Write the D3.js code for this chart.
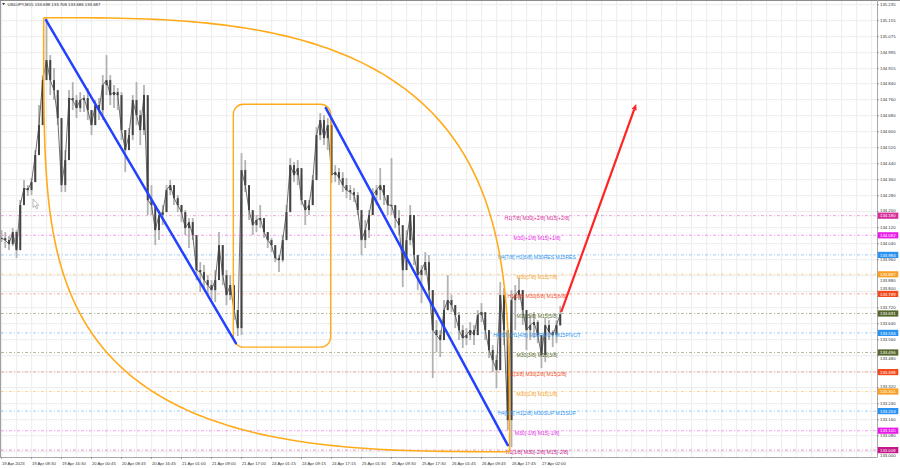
<!DOCTYPE html>
<html><head><meta charset="utf-8">
<script src="https://cdn.jsdelivr.net/npm/d3@7"></script>
<style>
body{margin:0;background:#fff;}
svg{display:block;}
text{font-family:"Liberation Sans",Arial,sans-serif;}
</style>
</head><body>
<svg id="c" width="900" height="468"></svg>
<script>
const symbolTitle = "USDJPY,M15";
const lastOHLC = ["133.698","133.708","133.686","133.687"];
const barsPerSample = 4;
const highs = [134.108,134.098,134.078,134.118,134.108,134.258,134.358,134.333,134.368,134.508,
134.733,134.883,135.168,134.983,134.918,134.783,134.508,134.508,134.808,134.848,
134.783,134.798,134.783,134.818,134.708,134.758,134.768,134.883,134.983,134.883,
134.833,134.818,134.798,134.608,134.618,134.783,134.848,134.708,134.833,134.768,
134.333,134.183,134.208,134.233,134.333,134.358,134.333,134.283,134.233,134.208,
134.168,134.168,134.058,133.948,133.933,133.883,133.858,133.908,134.098,134.033,
133.908,133.883,133.833,133.683,134.493,134.458,134.308,134.198,134.183,134.233,
134.148,134.098,134.068,134.018,133.983,134.083,134.233,134.468,134.448,134.458,
134.383,134.258,134.258,134.383,134.623,134.693,134.683,134.668,134.668,134.433,
134.418,134.398,134.368,134.333,134.318,134.298,134.183,134.158,134.208,134.318,
134.333,134.418,134.333,134.283,134.468,134.233,134.208,134.068,134.108,134.233,
134.183,133.983,133.933,133.998,133.983,133.808,133.658,133.608,133.758,133.883,
133.783,133.733,133.698,133.633,133.618,133.648,133.633,133.708,133.743,133.668,
133.583,133.533,133.483,133.848,133.818,133.608,133.808,133.833,133.868,133.808,
133.683,133.683,133.698,133.658,133.568,133.668,133.658,133.608,133.658,133.728];
const lows = [134.048,134.018,134.008,134.028,133.968,134.058,134.258,134.278,134.283,134.348,
134.558,134.633,134.883,134.783,134.758,134.633,134.298,134.298,134.608,134.708,
134.668,134.698,134.698,134.658,134.583,134.633,134.658,134.658,134.783,134.733,
134.718,134.708,134.558,134.398,134.508,134.558,134.633,134.533,134.583,134.183,
134.183,134.033,134.058,134.133,134.198,134.283,134.233,134.198,134.148,134.083,
134.018,134.058,133.858,133.798,133.808,133.783,133.758,133.748,133.933,133.833,
133.733,133.758,133.658,133.578,133.583,134.298,134.158,134.083,134.098,134.118,
134.068,134.018,133.998,133.948,133.898,133.948,134.068,134.208,134.348,134.333,
134.233,134.133,134.183,134.233,134.383,134.558,134.533,134.508,134.343,134.348,
134.333,134.298,134.268,134.258,134.248,134.183,133.983,134.018,134.068,134.183,
134.233,134.258,134.233,134.183,134.183,134.118,134.083,133.823,133.958,134.033,
133.933,133.808,133.743,133.883,133.758,133.368,133.498,133.473,133.583,133.708,
133.698,133.618,133.558,133.518,133.533,133.558,133.533,133.583,133.648,133.558,
133.468,133.398,133.318,133.408,133.533,133.108,133.023,133.608,133.758,133.633,
133.508,133.558,133.568,133.543,133.418,133.448,133.558,133.523,133.543,133.628];
const closes = [134.068,134.058,134.038,134.098,134.008,134.233,134.318,134.308,134.348,134.483,
134.633,134.858,134.958,134.858,134.808,134.668,134.333,134.458,134.768,134.758,
134.718,134.758,134.768,134.708,134.633,134.733,134.708,134.833,134.858,134.783,
134.798,134.783,134.608,134.508,134.583,134.758,134.683,134.608,134.783,134.258,
134.233,134.108,134.183,134.198,134.308,134.333,134.268,134.233,134.198,134.118,
134.148,134.083,133.908,133.898,133.858,133.833,133.808,133.858,134.033,133.883,
133.783,133.833,133.708,133.618,134.408,134.333,134.208,134.133,134.158,134.168,
134.098,134.058,134.033,133.968,133.958,134.058,134.198,134.433,134.383,134.418,
134.258,134.208,134.233,134.358,134.583,134.658,134.568,134.633,134.383,134.398,
134.368,134.333,134.308,134.298,134.283,134.208,134.058,134.108,134.183,134.283,
134.308,134.333,134.283,134.233,134.233,134.168,134.133,133.908,134.058,134.183,
133.983,133.883,133.908,133.948,133.808,133.608,133.583,133.558,133.708,133.758,
133.733,133.683,133.608,133.568,133.583,133.608,133.583,133.683,133.698,133.608,
133.508,133.458,133.408,133.783,133.608,133.158,133.758,133.783,133.808,133.708,
133.608,133.633,133.648,133.583,133.483,133.633,133.598,133.583,133.633,133.687];

const timeLabels = ["19 Apr 2023","19 Apr 08:30","19 Apr 16:30","20 Apr 00:45","20 Apr 08:45","20 Apr 16:45","21 Apr 01:00","21 Apr 09:00","21 Apr 17:00","24 Apr 01:15","24 Apr 09:15","24 Apr 17:15","25 Apr 01:30","25 Apr 09:30","25 Apr 17:30","26 Apr 01:45","26 Apr 09:45","26 Apr 17:45","27 Apr 02:00"];
const barsPerLabel = 32;
const priceTicks = [135.235,135.155,135.075,134.995,134.915,134.840,134.760,134.680,134.600,134.520,134.440,134.360,134.280,134.200,134.120,134.040,133.960,133.880,133.800,133.720,133.640,133.560,133.480,133.400,133.320,133.240,133.160,133.080,133.000];

const levelPrices = [134.180,134.082,133.984,133.887,133.789,133.691,133.594,133.496,133.398,133.301,133.203,133.105,133.008];
const levelNames = ["H1[7/8] M30[+2/8] M15[+2/8]","M30[+1/8] M15[+1/8]","H4[7/8] H1[6/8] M30RES M15RES","M30[7/8] M15[7/8]","H1[5/8] M30[6/8] M15[6/8]","M30[5/8] M15[5/8]","H4[6/8] H1[4/8] M30PIVOT M15PIVOT","M30[3/8] M15[3/8]","H1[3/8] M30[2/8] M15[2/8]","M30[1/8] M15[1/8]","H4[5/8] H1[2/8] M30SUP M15SUP","M30[-1/8] M15[-1/8]","H1[1/8] M30[-2/8] M15[-2/8]"];
const levelColors = ["#d62c9c","#e81ee8","#2a92f0","#f7a025","#f24a1c","#55692c","#2a92f0","#55692c","#f24a1c","#f7a025","#2a92f0","#e81ee8","#c4168a"];

const trendLines = [[47.5,135.158,250,133.543],[346,134.718,540,133.033]];
const arrowLine = [597,133.698,677,134.738];
const roundRect = [247.3,134.737,351.1,133.523];
const arcEnds = [45,135.17,542,133.0];

const svg = d3.select("#c");
const W = 900, H = 468, plotR = 877, plotB = 457;
const x = d3.scaleLinear().domain([0,934]).range([1.5, 877.1]);
const y = d3.scaleLinear().domain([132.9735,135.2535]).range([457,1]);

svg.append("rect").attr("width",W).attr("height",H).attr("fill","#fff");

// grid
const g = svg.append("g");
for (let b = 0; x(b) < plotR; b += 16) {
  g.append("line").attr("x1",x(b)+0.2).attr("x2",x(b)+0.2).attr("y1",1).attr("y2",plotB).attr("stroke","#ececec").attr("stroke-width",1);
}
priceTicks.forEach(p=>{
  g.append("line").attr("x1",1).attr("x2",plotR).attr("y1",y(p)).attr("y2",y(p)).attr("stroke","#ececec").attr("stroke-width",1);
});

// levels
levelPrices.forEach((p,i)=>{
  g.append("line").attr("x1",1).attr("x2",plotR).attr("y1",y(p)).attr("y2",y(p))
   .attr("stroke",levelColors[i]).attr("stroke-width",0.8).attr("stroke-dasharray","3,2,1,2").attr("opacity",0.55);
});

// candles
const cg = svg.append("g");
highs.forEach((h,i)=>{
  const cx = x(i*barsPerSample);
  cg.append("line").attr("x1",cx).attr("x2",cx).attr("y1",y(h)).attr("y2",y(lows[i]))
    .attr("stroke","#b2b2b2").attr("stroke-width",1.8);
});
cg.append("path").attr("d", d3.line().x((d,i)=>x(i*barsPerSample)).y(d=>y(d))(closes))
  .attr("fill","none").attr("stroke","#4a4a4a").attr("stroke-width",0.8);
highs.forEach((h,i)=>{
  const cx = x(i*barsPerSample);
  const o = i>0 ? closes[i-1] : closes[0];
  const c = closes[i];
  const y0 = Math.min(y(o),y(c)), y1 = Math.max(y(o),y(c));
  cg.append("rect").attr("x",cx-1).attr("width",2).attr("y",y0).attr("height",Math.max(1,y1-y0)).attr("fill","#444");
});

// level labels
levelPrices.forEach((p,i)=>{
  svg.append("text").attr("x",537).attr("y",y(p)+4.3).attr("text-anchor","middle")
    .attr("font-size",5.1).attr("fill",levelColors[i]).text(levelNames[i]);
});

// orange arc shape
function superArc(cx, cy, a, b, px, qy, sx, sy) {
  const pts = [];
  for (let k=0;k<=120;k++){
    const t = k/120*Math.PI/2;
    const X = Math.pow(Math.cos(t),2/px), Y = Math.pow(Math.sin(t),2/qy);
    pts.push([cx + sx*a*X, cy + sy*b*Y]);
  }
  return d3.line()(pts);
}
const P1 = [x(arcEnds[0]), y(arcEnds[1])], P2 = [x(arcEnds[2]), y(arcEnds[3])];
const A = P2[0]-P1[0], B = P2[1]-P1[1];
svg.append("path").attr("d", superArc(P1[0], P2[1], A, B, 3, 3.5, 1, -1))
  .attr("fill","none").attr("stroke","#ffab1a").attr("stroke-width",1.6);
svg.append("path").attr("d", superArc(P2[0], P1[1], A, B, 3, 4, -1, 1))
  .attr("fill","none").attr("stroke","#ffab1a").attr("stroke-width",1.6);

// rounded rectangle
svg.append("rect").attr("x",x(roundRect[0])).attr("y",y(roundRect[1]))
  .attr("width",x(roundRect[2])-x(roundRect[0])).attr("height",y(roundRect[3])-y(roundRect[1]))
  .attr("rx",10).attr("ry",10).attr("fill","none").attr("stroke","#ffab1a").attr("stroke-width",1.4);

// blue trend lines
trendLines.forEach(t=>{
  svg.append("line").attr("x1",x(t[0])).attr("y1",y(t[1])).attr("x2",x(t[2])).attr("y2",y(t[3]))
    .attr("stroke","#2342ff").attr("stroke-width",2.5).attr("stroke-linecap","round");
});

// red arrow
{
  const x0=x(arrowLine[0]), y0=y(arrowLine[1]), x1=x(arrowLine[2]), y1=y(arrowLine[3]);
  const ang = Math.atan2(y1-y0,x1-x0);
  const L=6, Wd=2.6;
  const bx = x1 - L*Math.cos(ang), by = y1 - L*Math.sin(ang);
  svg.append("line").attr("x1",x0).attr("y1",y0).attr("x2",bx).attr("y2",by)
    .attr("stroke","#ff2424").attr("stroke-width",2.2);
  svg.append("path").attr("d",`M${x1},${y1}L${bx+Wd*Math.sin(ang)},${by-Wd*Math.cos(ang)}L${bx-Wd*Math.sin(ang)},${by+Wd*Math.cos(ang)}Z`)
    .attr("fill","#ff2424");
}

// cursor
svg.append("path").attr("d","M33,199 L33,207.5 L35,205.7 L36.4,208.8 L37.6,208.3 L36.3,205.3 L38.9,205.3 Z")
  .attr("fill","#fff").attr("stroke","#8a8a8a").attr("stroke-width",0.6);

// frame
svg.append("line").attr("x1",0.5).attr("x2",0.5).attr("y1",0).attr("y2",plotB).attr("stroke","#a0a0a0");
svg.append("line").attr("x1",0).attr("x2",W).attr("y1",0.5).attr("y2",0.5).attr("stroke","#8c8c8c");
svg.append("line").attr("x1",plotR+0.5).attr("x2",plotR+0.5).attr("y1",0).attr("y2",plotB).attr("stroke","#a8a8a8");
svg.append("line").attr("x1",0).attr("x2",plotR+0.5).attr("y1",plotB+0.5).attr("y2",plotB+0.5).attr("stroke","#a8a8a8");

// right axis labels (nudged off the level boxes when they collide)
priceTicks.forEach(p=>{
  let ty = y(p);
  levelPrices.forEach(lp=>{
    const d = ty - y(lp);
    if (Math.abs(d) < 4.6 && Math.abs(d) > 0.8) ty = y(lp) + Math.sign(d)*5.6;
  });
  svg.append("line").attr("x1",plotR).attr("x2",plotR+2).attr("y1",y(p)).attr("y2",y(p)).attr("stroke","#777").attr("stroke-width",0.6);
  svg.append("text").attr("x",880).attr("y",ty+1.6).attr("font-size",4.3).attr("fill","#333").text(p.toFixed(3));
});
levelPrices.forEach((p,i)=>{
  svg.append("rect").attr("x",877.8).attr("y",y(p)-3.1).attr("width",20.5).attr("height",6.2).attr("fill",levelColors[i]);
  svg.append("text").attr("x",880).attr("y",y(p)+1.6).attr("font-size",4.3).attr("fill","#fff").text(p.toFixed(3));
});

// bottom axis labels
timeLabels.forEach((t,k)=>{
  const px = x(k*barsPerLabel);
  svg.append("line").attr("x1",px).attr("x2",px).attr("y1",plotB).attr("y2",plotB+2).attr("stroke","#777").attr("stroke-width",0.6);
  svg.append("text").attr("x",px+0.5).attr("y",464.8).attr("font-size",4.2).attr("fill","#333").text(t);
});

// header
svg.append("path").attr("d","M2.2,3 L5,3 L3.6,5 Z").attr("fill","#222");
svg.append("text").attr("x",7.5).attr("y",5.8).attr("font-size",4.3).attr("fill","#222")
  .text(symbolTitle + "  " + lastOHLC.join(" "));
</script>
</body></html>
